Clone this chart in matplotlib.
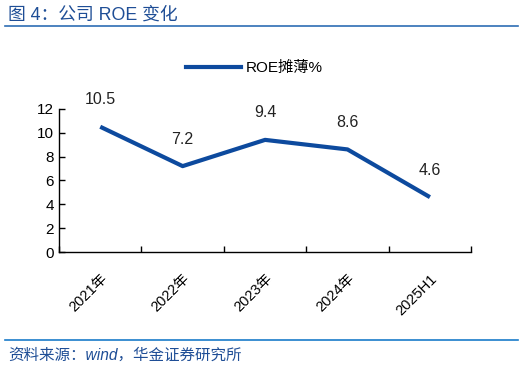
import matplotlib.pyplot as plt
from matplotlib.lines import Line2D

plt.rcParams['font.family'] = ['Liberation Sans', 'Noto Sans CJK SC', 'DejaVu Sans']

categories = ["2021年", "2022年", "2023年", "2024年", "2025H1"]
roe = [10.5, 7.2, 9.4, 8.6, 4.6]
yticks = [0, 2, 4, 6, 8, 10, 12]

line_color = '#0D4A9E'
title_color = '#1F4E96'

fig = plt.figure(figsize=(5.27, 3.69), dpi=100)
ax = fig.add_axes([0.112, 0.317, 0.782, 0.388])

x = list(range(len(categories)))
ax.plot(x, roe, color=line_color, linewidth=3, solid_capstyle='butt')
for xi, v in zip(x, roe):
    ax.annotate(f"{v:.1f}", (xi, v), xytext=(0, 14), textcoords='offset points',
                ha='center', va='bottom', fontsize=11.5, color='#222222')

ax.set_xlim(-0.5, len(categories) - 0.5)
ax.set_ylim(0, 12)
ax.set_yticks(yticks)
ax.set_yticklabels([str(t) for t in yticks], fontsize=11)
ax.set_xticks([i - 0.5 for i in range(len(categories) + 1)])
ax.set_xticklabels([])
ax.set_xticks(x, minor=True)
ax.set_xticklabels(categories, minor=True, rotation=45, ha='right', va='top',
                   rotation_mode='anchor', fontsize=10.5)
ax.tick_params(axis='x', which='minor', length=0, pad=14)
ax.tick_params(axis='both', which='major', direction='in', length=4, width=1)
for s in ['top', 'right']:
    ax.spines[s].set_visible(False)
for s in ['left', 'bottom']:
    ax.spines[s].set_linewidth(1)

handle = Line2D([], [], color=line_color, linewidth=3)
fig.legend([handle], ["ROE摊薄%"], loc='center', bbox_to_anchor=(0.483, 0.815),
           frameon=False, fontsize=11, handlelength=3.6, handletextpad=0.3)

# header and footer
fig.text(0.015, 0.958, "图 4：公司 ROE 变化", fontsize=12.8, color=title_color,
         ha='left', va='center')
fig.add_artist(Line2D([0.01, 0.982], [0.929, 0.929], color='#2E6DB4', linewidth=1.2))
fig.add_artist(Line2D([0.01, 0.982], [0.079, 0.079], color='#1A7BC9', linewidth=1.2))
fig.text(0.015, 0.037, "资料来源：wind，华金证券研究所", fontsize=11.2, color=title_color,
         style='italic', ha='left', va='center')

fig.savefig('out.png', dpi=100)
